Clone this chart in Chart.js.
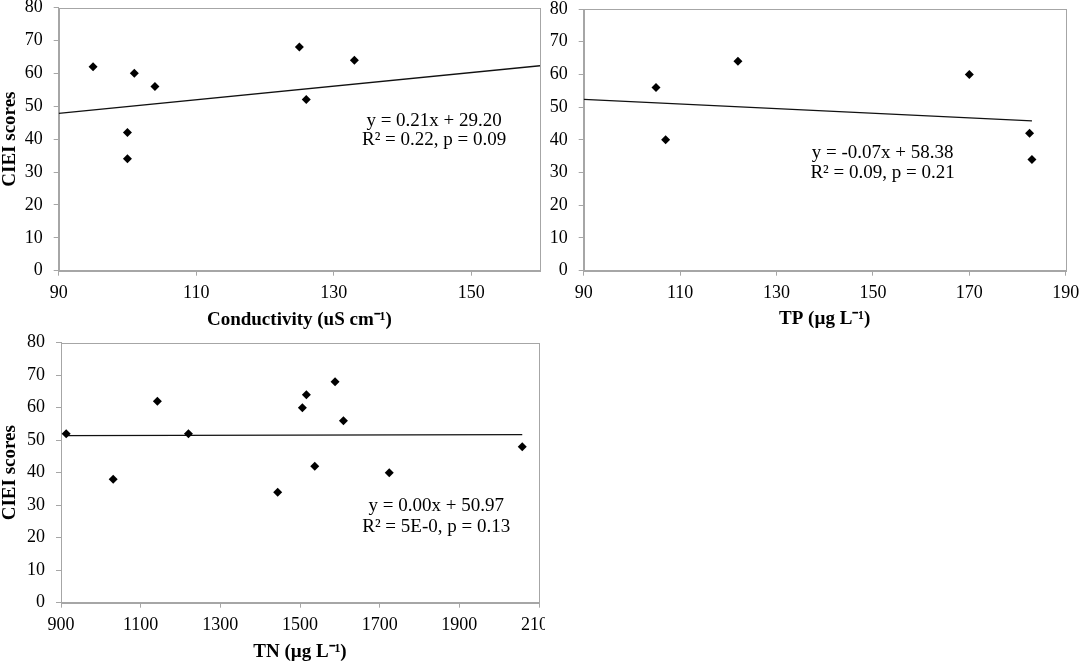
<!DOCTYPE html>
<html><head><meta charset="utf-8">
<script src="https://cdn.jsdelivr.net/npm/chart.js@4.4.1/dist/chart.umd.min.js"></script>
<style>
html,body{margin:0;padding:0;background:#fff;width:1084px;height:665px;overflow:hidden}
.p{position:absolute}
</style></head><body>
<div class="p" style="left:0;top:0;width:545px;height:335px"><canvas id="c1" width="545" height="335"></canvas></div>
<div class="p" style="left:545px;top:0;width:539px;height:335px"><canvas id="c2" width="539" height="335"></canvas></div>
<div class="p" style="left:0;top:330px;width:545px;height:335px"><canvas id="c3" width="545" height="335"></canvas></div>
<script>
// ---- data ----
const yTicks = [0,10,20,30,40,50,60,70,80];
const yTitle = 'CIEI scores';

const condX = [95,100,100,101,104,125,126,133];
const condY = [62,42,34,60,56,68,52,64];
const condFitX = [90,160];
const condFitY = [47.8,62.3];
const condTicks = [90,110,130,150];
const condTitle = 'Conductivity (uS cm\u207B\u00B9)';
const condEq = ['y = 0.21x + 29.20','R\u00B2 = 0.22, p = 0.09'];

const tpX = [105,107,122,170,182.5,183];
const tpY = [56,40,64,60,42,34];
const tpFitX = [90,183];
const tpFitY = [52.4,45.8];
const tpTicks = [90,110,130,150,170,190];
const tpTitle = 'TP (\u00B5g L\u207B\u00B9)';
const tpEq = ['y = -0.07x + 58.38','R\u00B2 = 0.09, p = 0.21'];

const tnX = [913,1031,1142,1220,1444,1506,1516,1537,1588,1609,1724,2058];
const tnY = [52,38,62,52,34,60,64,42,68,56,40,48];
const tnFitX = [913,2058];
const tnFitY = [51.4,51.7];
const tnTicks = [900,1100,1300,1500,1700,1900,2100];
const tnTitle = 'TN (\u00B5g L\u207B\u00B9)';
const tnEq = ['y = 0.00x + 50.97','R\u00B2 = 5E-0, p = 0.13'];

// ---- style ----
const SERIF = '"Liberation Serif", "Times New Roman", serif';
const GRAY = '#a6a6a6';

const boxText = {
  id: 'boxText',
  beforeDatasetsDraw(chart) {
    const a = chart.chartArea, ctx = chart.ctx;
    ctx.save();
    ctx.strokeStyle = GRAY; ctx.lineWidth = 1;
    ctx.strokeRect(Math.round(a.left)+0.5, Math.round(a.top)+0.5, Math.round(a.right-a.left), Math.round(a.bottom-a.top));
    ctx.restore();
  },
  afterDraw(chart) {
    const o = chart.options.plugins.boxText;
    const ctx = chart.ctx, xs = chart.scales.x, ys = chart.scales.y;
    ctx.save();
    ctx.fillStyle = '#000';
    ctx.font = '19px ' + SERIF;
    ctx.textAlign = 'center';
    ctx.textBaseline = 'middle';
    o.lines.forEach((t, i) => {
      ctx.fillText(t, xs.getPixelForValue(o.ax), ys.getPixelForValue(o.ay[i]));
    });
    ctx.restore();
  }
};

function makeChart(id, c) {
  const pts = c.x.map((v, i) => ({x: v, y: c.y[i]}));
  const fit = c.fx.map((v, i) => ({x: v, y: c.fy[i]}));
  return new Chart(document.getElementById(id), {
    type: 'scatter',
    data: { datasets: [
      { data: pts, pointStyle: 'rectRot', pointRadius: 4.5, pointHoverRadius: 4.5,
        backgroundColor: '#000', borderColor: '#000', borderWidth: 0, showLine: false },
      { data: fit, showLine: true, pointRadius: 0, borderColor: '#111', borderWidth: 1.3, fill: false }
    ]},
    options: {
      responsive: false, animation: false, events: [],
      layout: { padding: c.pad },
      plugins: { legend: {display: false}, tooltip: {enabled: false},
        boxText: { lines: c.eq, ax: c.ax, ay: c.ay } },
      scales: {
        x: { type: 'linear', min: c.min, max: c.max,
          afterBuildTicks: s => { s.ticks = c.ticks.map(v => ({value: v})); },
          afterFit: s => { s.height = c.xh; s.paddingLeft = 0; s.paddingRight = 0; },
          grid: { drawOnChartArea: false, drawTicks: true, tickLength: 5, color: GRAY, lineWidth: 1 },
          border: { display: true, color: GRAY, width: 1 },
          ticks: { font: {family: SERIF, size: 18}, color: '#000', padding: 7, maxRotation: 0, autoSkip: false,
                   callback: v => String(v) },
          title: { display: true, text: c.title, color: '#000',
                   font: {family: SERIF, size: 19, weight: 'bold', lineHeight: 1},
                   padding: {top: 0, bottom: c.tpb} }
        },
        y: { type: 'linear', min: 0, max: 80,
          afterBuildTicks: s => { s.ticks = yTicks.map(v => ({value: v})); },
          afterFit: s => { s.width = c.yw; s.paddingTop = 0; s.paddingBottom = 0; },
          grid: { drawOnChartArea: false, drawTicks: true, tickLength: 5, color: GRAY, lineWidth: 1 },
          border: { display: true, color: GRAY, width: 1 },
          ticks: { font: {family: SERIF, size: 18}, color: '#000', padding: 11, autoSkip: false,
                   callback: v => String(v) },
          title: { display: c.showY, text: yTitle, color: '#000',
                   font: {family: SERIF, size: 19, weight: 'bold', lineHeight: 1},
                   padding: {top: 1, bottom: 0} }
        }
      }
    },
    plugins: [boxText]
  });
}

makeChart('c1', { x: condX, y: condY, fx: condFitX, fy: condFitY, ticks: condTicks, min: 90, max: 160,
  title: condTitle, eq: condEq, ax: 144.6, ay: [45.5, 39.6], showY: true,
  pad: {left: 0, top: 7.5, right: 5, bottom: 0}, yw: 58.7, xh: 64.3, tpb: 5 });

makeChart('c2', { x: tpX, y: tpY, fx: tpFitX, fy: tpFitY, ticks: tpTicks, min: 90, max: 190,
  title: tpTitle, eq: tpEq, ax: 152.0, ay: [36.1, 29.8], showY: false,
  pad: {left: 0, top: 9, right: 18.3, bottom: 0}, yw: 38.7, xh: 64.3, tpb: 6 });

makeChart('c3', { x: tnX, y: tnY, fx: tnFitX, fy: tnFitY, ticks: tnTicks, min: 900, max: 2100,
  title: tnTitle, eq: tnEq, ax: 1842, ay: [29.6, 23.2], showY: true,
  pad: {left: 0, top: 12.7, right: 6, bottom: 0}, yw: 61, xh: 62.3, tpb: 3.5 });
</script>
</body></html>
